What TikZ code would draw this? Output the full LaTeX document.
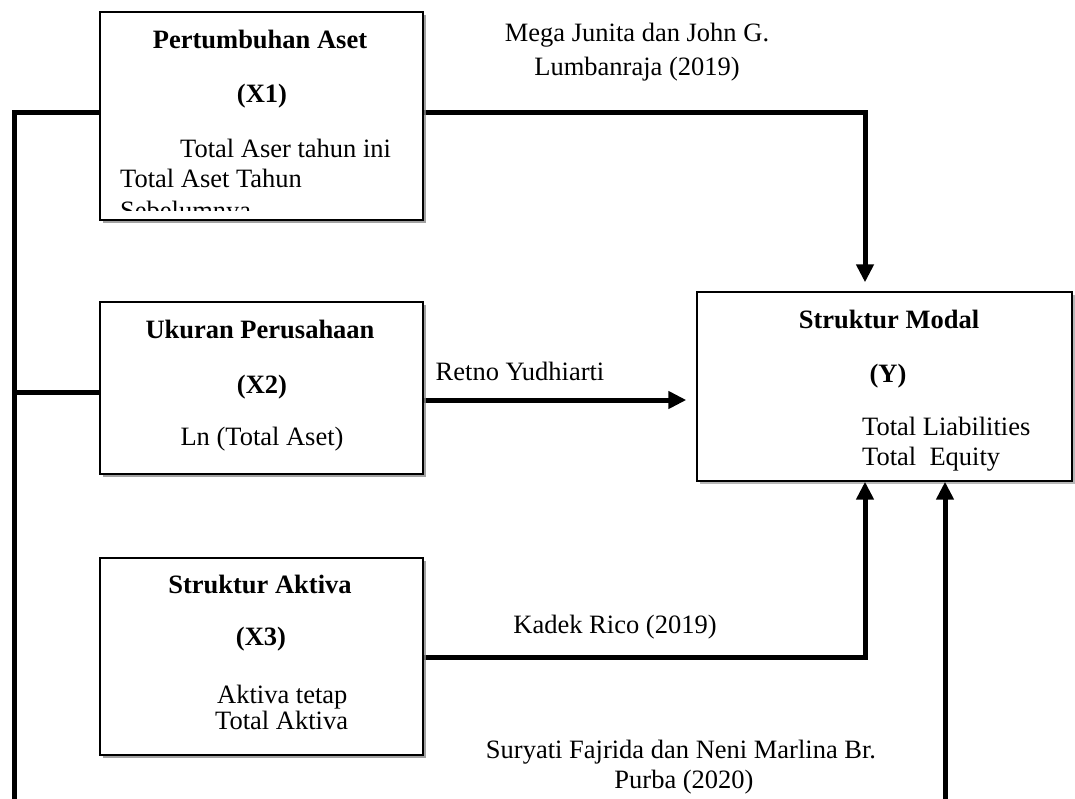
\documentclass[tikz,border=0pt]{standalone}
\usepackage{fontspec}
\setmainfont{Liberation Serif}
\usetikzlibrary{arrows.meta,shadows}
\begin{document}
\begin{tikzpicture}[x=1pt,y=-1pt,
  box/.style={draw=black, line width=1.4pt, fill=white, rectangle, inner sep=0pt,
    drop shadow={shadow xshift=3pt, shadow yshift=-3pt, fill=black!40, opacity=0.7}},
  conn/.style={line width=5pt, black},
  arr/.style={conn, -{Triangle[length=18pt,width=17pt]}},
  txt/.style={font=\fontsize{26.5}{32}\selectfont, anchor=base, inner sep=0pt},
  btxt/.style={txt, font=\fontsize{26.5}{32}\selectfont\bfseries},
]
\useasboundingbox (0,0) rectangle (1075,798);

% boxes
\node[box, minimum width=323pt, minimum height=208pt] (x1) at (261.5,116) {};
\node[box, minimum width=323pt, minimum height=172pt] (x2) at (261.5,388) {};
\node[box, minimum width=323pt, minimum height=197pt] (x3) at (261.5,656.5) {};
\node[box, minimum width=375pt, minimum height=189pt] (y) at (884.5,386.5) {};

% junction coordinates
\coordinate (bl) at (14,800);
\coordinate (j1) at (14,112);
\coordinate (j2) at (14,392);
\coordinate (c1) at (865,112);
\coordinate (c2) at (687,400);
\coordinate (c3) at (865,657);
\coordinate (br) at (945,800);

% connectors
\draw[conn] (bl) -- (j1) -- (j1 -| x1.west);
\draw[conn] (j2) -- (j2 -| x2.west);
\draw[arr, shorten >=9pt] (c1 -| x1.east) -- (c1) -- (c1 |- y.north);
\draw[arr, shorten >=10pt] (c2 -| x2.east) -- (c2 -| y.west);
\draw[arr] (c3 -| x3.east) -- (c3) -- (c3 |- y.south);
\draw[arr] (br) -- (br |- y.south);

% redraw boxes on top of the line ends
\node[box, minimum width=323pt, minimum height=208pt] at (x1.center) {};
\node[box, minimum width=323pt, minimum height=172pt] at (x2.center) {};
\node[box, minimum width=323pt, minimum height=197pt] at (x3.center) {};

% X1 texts
\node[btxt] (t1a) at (260,48) {Pertumbuhan Aset};
\node[btxt] (t1b) at (262,102) {(X1)};
\node[txt, anchor=base west] (t1c) at (180,157) {Total Aser tahun ini};
\node[txt, anchor=base west] (t1d) at (120,187) {Total Aset Tahun};
\begin{scope}
  \clip (100,12) rectangle (423,210);
  \node[txt, anchor=base west] (t1e) at (120,219) {Sebelumnya};
\end{scope}

% X2 texts
\node[btxt] (t2a) at (260,338) {Ukuran Perusahaan};
\node[btxt] (t2b) at (262,393) {(X2)};
\node[txt] (t2c) at (262,445) {Ln (Total Aset)};

% X3 texts
\node[btxt] (t3a) at (260,593) {Struktur Aktiva};
\node[btxt] (t3b) at (261,645) {(X3)};
\node[txt, anchor=base west] (t3c) at (217,703) {Aktiva tetap};
\node[txt, anchor=base west] (t3d) at (215,729) {Total Aktiva};

% Y texts
\node[btxt] (tya) at (889,328) {Struktur Modal};
\node[btxt] (tyb) at (888,382) {(Y)};
\node[txt, anchor=base west] (tyc) at (862,435) {Total Liabilities};
\node[txt, anchor=base west] (tyd) at (862,465) {Total\ \ Equity};

% connector labels
\node[txt] (l1a) at (637,41) {Mega Junita dan John G.};
\node[txt] (l1b) at (637,75) {Lumbanraja (2019)};
\node[txt] (l2) at (520,380) {Retno Yudhiarti};
\node[txt] (l3) at (615,633) {Kadek Rico (2019)};
\node[txt] (l4a) at (681,758) {Suryati Fajrida dan Neni Marlina Br.};
\node[txt] (l4b) at (684,788) {Purba (2020)};
\end{tikzpicture}
\end{document}
